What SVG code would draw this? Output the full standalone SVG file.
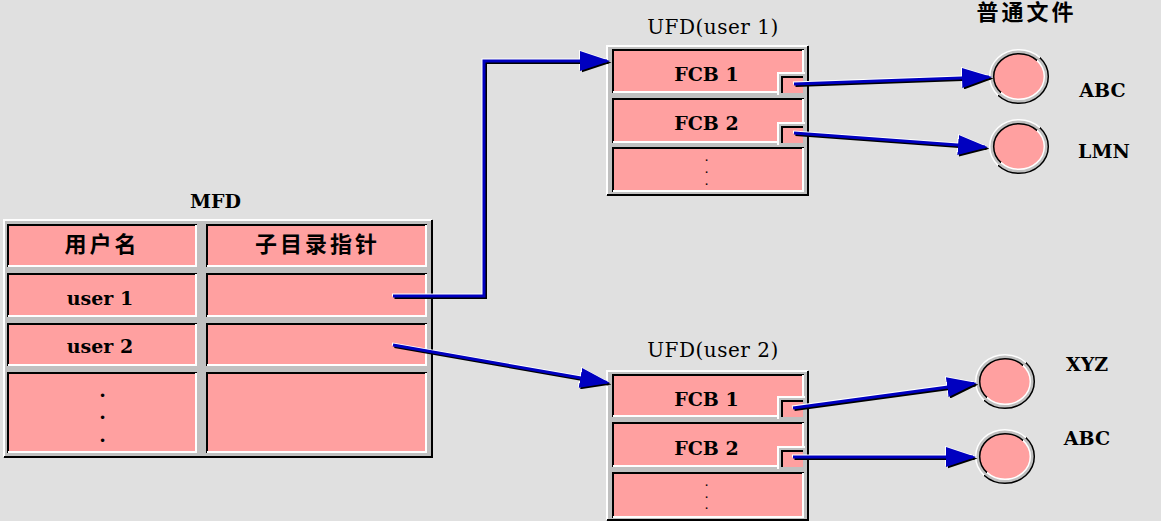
<svg xmlns="http://www.w3.org/2000/svg" width="1161" height="521" viewBox="0 0 1161 521">
<style>
.frame{fill:#c0c0c0}
.cell{fill:#ffa0a0}
.dk{stroke:#000;stroke-width:2;fill:none}
.lt{stroke:#fff;stroke-width:2;fill:none}
.tb{font-family:"DejaVu Serif","Liberation Serif",serif;font-weight:bold;font-size:19px;text-anchor:middle;fill:#000}
.tr{font-family:"DejaVu Serif","Liberation Serif",serif;font-size:20px;letter-spacing:0.5px;text-anchor:middle;fill:#000}
.td{font-family:"DejaVu Serif","Liberation Serif",serif;font-weight:bold;font-size:9px;text-anchor:middle;fill:#000}
.tc{font-family:"Noto Sans CJK SC","Noto Sans CJK JP",sans-serif;font-weight:bold;font-size:22px;letter-spacing:3px;text-anchor:middle;fill:#000}
.ln{stroke:#0000c0;stroke-width:3;fill:none;marker-end:url(#ab)}
.sh{stroke:#000;stroke-width:3;fill:none;marker-end:url(#ak)}
.hi{stroke:#fff;stroke-width:3;fill:none;marker-end:url(#aw)}
.ring{fill:#ffa0a0;stroke:#c0c0c0;stroke-width:4}
.ro{fill:none;stroke:url(#gOut);stroke-width:1.5}
.ri{fill:none;stroke:url(#gIn);stroke-width:1.5}
</style>
<defs>
<marker id="ab" viewBox="0 0 30 20" markerUnits="userSpaceOnUse" markerWidth="30" markerHeight="20" refX="27" refY="10" orient="auto"><path d="M0,0 L30,10 L0,20 Z" fill="#0000c0"/></marker>
<marker id="ak" viewBox="0 0 30 20" markerUnits="userSpaceOnUse" markerWidth="30" markerHeight="20" refX="27" refY="10" orient="auto"><path d="M0,0 L30,10 L0,20 Z" fill="#000"/></marker>
<marker id="aw" viewBox="0 0 30 20" markerUnits="userSpaceOnUse" markerWidth="30" markerHeight="20" refX="27" refY="10" orient="auto"><path d="M0,0 L30,10 L0,20 Z" fill="#fff"/></marker>
<linearGradient id="gOut" x1="0" y1="0" x2="1" y2="1"><stop offset="0.5" stop-color="#fff"/><stop offset="0.5" stop-color="#000"/></linearGradient>
<linearGradient id="gIn" x1="0" y1="0" x2="1" y2="1"><stop offset="0.5" stop-color="#000"/><stop offset="0.5" stop-color="#fff"/></linearGradient>
</defs>
<rect x="0" y="0" width="1161" height="521" fill="#e0e0e0"/>

<g id="mfd">
<text class="tb" x="215.5" y="208">MFD</text>
<rect class="frame" x="3" y="219" width="430" height="239"/>
<path class="lt" d="M4,457 V220 H432"/>
<path class="dk" d="M4,457 H432 V220"/>
<g id="mfd-h1"><rect class="cell" x="7" y="224" width="190" height="43"/><path class="dk" d="M8,267 V225 H197"/><path class="lt" d="M8,266 H196 V225"/><text class="tc" x="102" y="252">用户名</text></g>
<g id="mfd-h2"><rect class="cell" x="206" y="224" width="221" height="43"/><path class="dk" d="M207,267 V225 H427"/><path class="lt" d="M207,266 H426 V225"/><text class="tc" x="317.5" y="252">子目录指针</text></g>
<g id="mfd-u1"><rect class="cell" x="7" y="273" width="190" height="44"/><path class="dk" d="M8,317 V274 H197"/><path class="lt" d="M8,316 H196 V274"/><text class="tb" x="100" y="305">user 1</text></g>
<g id="mfd-p1"><rect class="cell" x="206" y="273" width="221" height="44"/><path class="dk" d="M207,317 V274 H427"/><path class="lt" d="M207,316 H426 V274"/></g>
<g id="mfd-u2"><rect class="cell" x="7" y="323" width="190" height="43"/><path class="dk" d="M8,366 V324 H197"/><path class="lt" d="M8,365 H196 V324"/><text class="tb" x="100" y="353">user 2</text></g>
<g id="mfd-p2"><rect class="cell" x="206" y="323" width="221" height="43"/><path class="dk" d="M207,366 V324 H427"/><path class="lt" d="M207,365 H426 V324"/></g>
<g id="mfd-u3"><rect class="cell" x="7" y="372" width="190" height="81"/><path class="dk" d="M8,453 V373 H197"/><path class="lt" d="M8,452 H196 V373"/><text class="tb"><tspan x="102.5" y="397">.</tspan><tspan x="102.5" y="419">.</tspan><tspan x="102.5" y="442">.</tspan></text></g>
<g id="mfd-p3"><rect class="cell" x="206" y="372" width="221" height="81"/><path class="dk" d="M207,453 V373 H427"/><path class="lt" d="M207,452 H426 V373"/></g>
</g>

<g id="ufd1">
<text class="tr" x="713" y="34">UFD(user 1)</text>
<rect class="frame" x="606" y="45" width="203" height="151"/>
<path class="lt" d="M607,195 V46 H808"/>
<path class="dk" d="M607,195 H808 V46"/>
<g id="ufd1-fcb1"><rect class="cell" x="612" y="49" width="192" height="44"/><path class="dk" d="M613,93 V50 H804"/><path class="lt" d="M613,92 H803 V50"/><text class="tb" x="706.5" y="81">FCB 1</text>
<rect class="frame" x="777" y="72" width="28" height="23"/><path class="lt" d="M778,95 V73 H805"/><rect class="cell" x="781" y="76" width="22" height="17"/><path class="dk" d="M782,93 V77 H803"/></g>
<g id="ufd1-fcb2"><rect class="cell" x="612" y="98" width="192" height="45"/><path class="dk" d="M613,143 V99 H804"/><path class="lt" d="M613,142 H803 V99"/><text class="tb" x="706.5" y="130">FCB 2</text>
<rect class="frame" x="777" y="122" width="28" height="23"/><path class="lt" d="M778,145 V123 H805"/><rect class="cell" x="781" y="126" width="22" height="17"/><path class="dk" d="M782,143 V127 H803"/></g>
<g id="ufd1-more"><rect class="cell" x="612" y="147" width="192" height="45"/><path class="dk" d="M613,192 V148 H804"/><path class="lt" d="M613,191 H803 V148"/><text class="td"><tspan x="706.5" y="161">.</tspan><tspan x="706.5" y="173">.</tspan><tspan x="706.5" y="185">.</tspan></text></g>
</g>

<g id="ufd2">
<text class="tr" x="713" y="357">UFD(user 2)</text>
<rect class="frame" x="606" y="370" width="203" height="151"/>
<path class="lt" d="M607,520 V371 H808"/>
<path class="dk" d="M607,520 H808 V371"/>
<g id="ufd2-fcb1"><rect class="cell" x="612" y="374" width="192" height="43"/><path class="dk" d="M613,417 V375 H804"/><path class="lt" d="M613,416 H803 V375"/><text class="tb" x="706.5" y="406">FCB 1</text>
<rect class="frame" x="777" y="396" width="28" height="23"/><path class="lt" d="M778,419 V397 H805"/><rect class="cell" x="781" y="400" width="22" height="17"/><path class="dk" d="M782,417 V401 H803"/></g>
<g id="ufd2-fcb2"><rect class="cell" x="612" y="422" width="192" height="45"/><path class="dk" d="M613,467 V423 H804"/><path class="lt" d="M613,466 H803 V423"/><text class="tb" x="706.5" y="455">FCB 2</text>
<rect class="frame" x="777" y="446" width="28" height="23"/><path class="lt" d="M778,469 V447 H805"/><rect class="cell" x="781" y="450" width="22" height="17"/><path class="dk" d="M782,467 V451 H803"/></g>
<g id="ufd2-more"><rect class="cell" x="612" y="472" width="192" height="46"/><path class="dk" d="M613,518 V473 H804"/><path class="lt" d="M613,517 H803 V473"/><text class="td"><tspan x="706.5" y="486">.</tspan><tspan x="706.5" y="497.5">.</tspan><tspan x="706.5" y="509">.</tspan></text></g>
</g>

<text id="files-title" class="tc" x="1026.5" y="20">普通文件</text>

<g id="file-abc1"><ellipse class="ring" cx="1019" cy="76.5" rx="27.3" ry="24.8"/><ellipse class="ro" cx="1019" cy="76.5" rx="29.3" ry="26.8"/><ellipse class="ri" cx="1019" cy="76.5" rx="25.3" ry="22.8"/><text class="tb" x="1102.5" y="97">ABC</text></g>
<g id="file-lmn"><ellipse class="ring" cx="1019" cy="146.5" rx="27.3" ry="24.8"/><ellipse class="ro" cx="1019" cy="146.5" rx="29.3" ry="26.8"/><ellipse class="ri" cx="1019" cy="146.5" rx="25.3" ry="22.8"/><text class="tb" x="1104" y="158">LMN</text></g>
<g id="file-xyz"><ellipse class="ring" cx="1005" cy="381.5" rx="27.3" ry="24.8"/><ellipse class="ro" cx="1005" cy="381.5" rx="29.3" ry="26.8"/><ellipse class="ri" cx="1005" cy="381.5" rx="25.3" ry="22.8"/><text class="tb" x="1087" y="371">XYZ</text></g>
<g id="file-abc2"><ellipse class="ring" cx="1005" cy="456.5" rx="27.3" ry="24.8"/><ellipse class="ro" cx="1005" cy="456.5" rx="29.3" ry="26.8"/><ellipse class="ri" cx="1005" cy="456.5" rx="25.3" ry="22.8"/><text class="tb" x="1087" y="445">ABC</text></g>

<g id="connectors">
<g id="e1"><path class="hi" transform="translate(-1,-1)" d="M393,296 H484 V61 H607"/><path class="sh" transform="translate(1.5,1.5)" d="M393,296 H484 V61 H607"/><path class="ln" d="M393,296 H484 V61 H607"/></g>
<g id="e2"><path class="hi" transform="translate(-1,-1)" d="M393,345 L607,382.5"/><path class="sh" transform="translate(1.5,1.5)" d="M393,345 L607,382.5"/><path class="ln" d="M393,345 L607,382.5"/></g>
<g id="e3"><path class="hi" transform="translate(-1,-1)" d="M794,84 L989,77"/><path class="sh" transform="translate(1.5,1.5)" d="M794,84 L989,77"/><path class="ln" d="M794,84 L989,77"/></g>
<g id="e4"><path class="hi" transform="translate(-1,-1)" d="M794,133 L985,147"/><path class="sh" transform="translate(1.5,1.5)" d="M794,133 L985,147"/><path class="ln" d="M794,133 L985,147"/></g>
<g id="e5"><path class="hi" transform="translate(-1,-1)" d="M793,408 L974,383.5"/><path class="sh" transform="translate(1.5,1.5)" d="M793,408 L974,383.5"/><path class="ln" d="M793,408 L974,383.5"/></g>
<g id="e6"><path class="hi" transform="translate(-1,-1)" d="M793,457 H973"/><path class="sh" transform="translate(1.5,1.5)" d="M793,457 H973"/><path class="ln" d="M793,457 H973"/></g>
</g>
</svg>
